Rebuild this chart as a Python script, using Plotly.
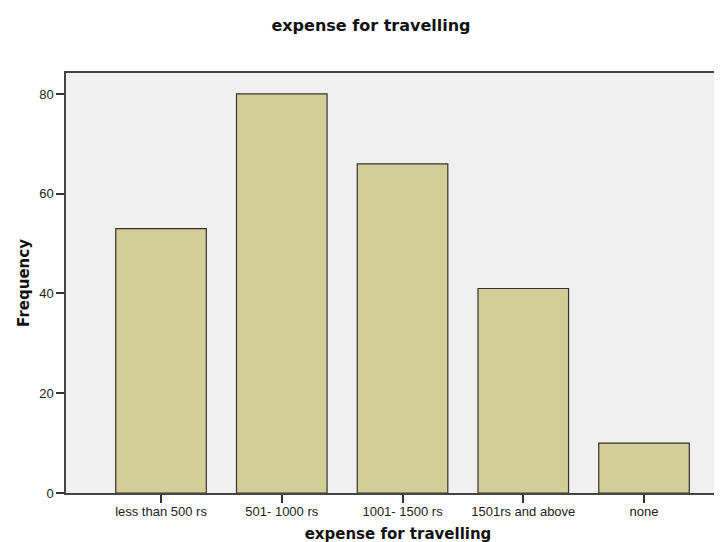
import plotly.graph_objects as go

categories = ["less than 500 rs", "501- 1000 rs", "1001- 1500 rs", "1501rs and above", "none"]
frequencies = [53, 80, 66, 41, 10]
y_ticks = [0, 20, 40, 60, 80]

fig = go.Figure(
    go.Bar(
        x=categories,
        y=frequencies,
        width=0.75,
        marker=dict(color="#D3CE97", line=dict(color="#333333", width=1.2)),
    )
)

tick_family = "Liberation Sans, Arial, sans-serif"
title_family = "DejaVu Sans, Verdana, sans-serif"

fig.update_layout(
    width=722,
    height=542,
    margin=dict(l=58, r=0, t=65, b=57),
    paper_bgcolor="white",
    plot_bgcolor="#F0F0F0",
    showlegend=False,
    title=dict(
        text="<b>expense for travelling</b>",
        xref="container",
        x=363 / 722,
        xanchor="center",
        yref="container",
        y=1 - 17 / 542,
        yanchor="middle",
        font=dict(family=title_family, size=16, color="#111111"),
    ),
    font=dict(family=tick_family, size=13, color="#222222"),
)

fig.update_xaxes(
    automargin=False,
    range=[-0.787, 4.712],
    showgrid=False,
    zeroline=False,
    showline=True,
    linecolor="#444444",
    linewidth=1.5,
    mirror=True,
    ticks="outside",
    ticklen=8,
    tickwidth=1.5,
    tickcolor="#333333",
    ticklabelstandoff=-2,
    tickfont=dict(family=tick_family, size=13, color="#222222"),
    title=dict(
        text="<b>expense for travelling</b>",
        font=dict(family=title_family, size=15, color="#111111"),
        standoff=10,
    ),
)

fig.update_yaxes(
    automargin=False,
    range=[0, 84.2],
    tickvals=y_ticks,
    showgrid=False,
    zeroline=False,
    showline=True,
    linecolor="#444444",
    linewidth=1.5,
    ticks="outside",
    ticklen=8,
    tickwidth=1.5,
    tickcolor="#333333",
    tickfont=dict(family=tick_family, size=13, color="#222222"),
    title=dict(
        text="<b>Frequency</b>",
        font=dict(family=title_family, size=15, color="#111111"),
        standoff=6,
    ),
)

fig.write_html("out.html")
